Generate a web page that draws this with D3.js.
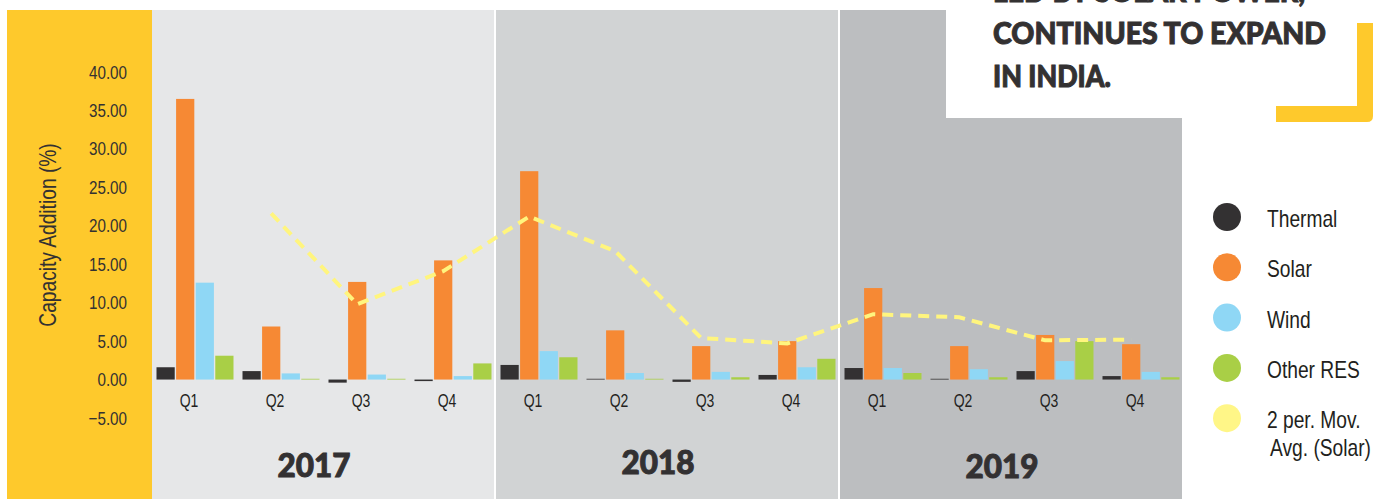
<!DOCTYPE html>
<html>
<head>
<meta charset="utf-8">
<script src="https://cdn.jsdelivr.net/npm/d3@7"></script>
<style>
  html, body { margin: 0; padding: 0; background: #ffffff; }
  svg { display: block; }
</style>
</head>
<body>
<svg id="chart" width="1380" height="499"></svg>
<script>
// ---------------- data ----------------
const years = ["2017", "2018", "2019"];
const quarters = ["Q1", "Q2", "Q3", "Q4"];
const seriesNames = ["Thermal", "Solar", "Wind", "Other RES"];
const thermal = [1.6, 1.1, -0.4, -0.2, 1.9, 0.1, -0.3, 0.6, 1.5, 0.1, 1.1, 0.45];
const solar   = [36.5, 6.9, 12.7, 15.5, 27.1, 6.4, 4.35, 5.0, 11.9, 4.35, 5.8, 4.6];
const wind    = [12.6, 0.8, 0.65, 0.45, 3.7, 0.85, 1.0, 1.6, 1.5, 1.35, 2.4, 1.0];
const otherRes = [3.1, 0.1, 0.1, 2.1, 2.9, 0.1, 0.3, 2.7, 0.85, 0.3, 5.0, 0.3];
// 2-period moving average of Solar, starting at 2017 Q2
const movAvgSolar = [21.6, 9.8, 14.1, 21.2, 16.7, 5.4, 4.7, 8.5, 8.1, 5.1, 5.2];
const yTicks = [-5, 0, 5, 10, 15, 20, 25, 30, 35, 40];
const legendLabels = ["Thermal", "Solar", "Wind", "Other RES", "2 per. Mov.|Avg. (Solar)"];
const titleLines = ["LED BY SOLAR POWER,", "CONTINUES TO EXPAND", "IN INDIA."];
const yAxisTitle = "Capacity Addition (%)";

// ---------------- styles ----------------
const colors = {
  "Thermal": "#333132",
  "Solar": "#f68934",
  "Wind": "#8fd7f5",
  "Other RES": "#a9cf46",
  "movavg": "#fff57e"
};
const legendColors = ["#333132", "#f68934", "#8fd7f5", "#a9cf46", "#fff687"];
const panelFills = ["#e6e7e8", "#d1d3d4", "#bcbec0"];
const textDark = "#333132";
const narrowFont = "'Liberation Sans', Arial, sans-serif";
const narrowScale = 0.8;

// ---------------- build ----------------
const svg = d3.select("#chart");
const W = 1380, H = 499;
svg.append("rect").attr("width", W).attr("height", H).attr("fill", "#ffffff");

function narrowText(parent, tx, ty, size, anchor, txt, fill, rot) {
  return parent.append("text")
    .attr("transform", `translate(${tx},${ty})` + (rot ? ` rotate(${rot})` : "") + ` scale(${narrowScale},1)`)
    .attr("text-anchor", anchor)
    .attr("font-family", narrowFont)
    .attr("font-size", size)
    .attr("fill", fill || textDark)
    .text(txt);
}

const periods = [];
years.forEach(yy => quarters.forEach(q => periods.push(yy + "-" + q)));
const seriesValues = [thermal, solar, wind, otherRes];

const x = d3.scaleBand().domain(periods).range([152, 1184]).padding(0);
const xi = d3.scaleBand().domain(seriesNames).range([4.5, x.bandwidth() - 4.5]).paddingInner(0.07).paddingOuter(0);
const y = d3.scaleLinear().domain([-5, 40]).range([418, 72]);

const panelTop = 10;

// yellow axis panel
svg.append("rect").attr("x", 7).attr("y", panelTop).attr("width", 145).attr("height", H - panelTop).attr("fill", "#fec92c");

// year panels
years.forEach((yr, i) => {
  const x0 = x(yr + "-Q1");
  const x1 = x(yr + "-Q4") + x.bandwidth();
  svg.append("rect")
    .attr("x", x0).attr("y", panelTop)
    .attr("width", x1 - x0 - 2).attr("height", H - panelTop)
    .attr("fill", panelFills[i]);
});

// y axis tick labels
const yAxisG = svg.append("g");
yTicks.forEach(t => {
  narrowText(yAxisG, 127, y(t) + 6.5, 19, "end", d3.format(".2f")(t));
});

// y axis title
narrowText(svg, 56, 235, 24, "middle", yAxisTitle, textDark, -90);

// bars
const barsG = svg.append("g");
periods.forEach((p, pi) => {
  seriesNames.forEach((s, si) => {
    const v = seriesValues[si][pi];
    barsG.append("rect")
      .attr("x", x(p) + xi(s))
      .attr("width", xi.bandwidth())
      .attr("y", y(Math.max(0, v)))
      .attr("height", Math.abs(y(v) - y(0)))
      .attr("fill", colors[s]);
  });
});

// quarter labels
const qG = svg.append("g");
periods.forEach(p => {
  narrowText(qG, x(p) + x.bandwidth() / 2 - 6, 407, 17.5, "middle", p.split("-")[1], "#231f20");
});

// moving average line
const lineData = movAvgSolar.map((v, i) => ({ p: periods[i + 1], v }));
const line = d3.line()
  .x(d => x(d.p) + xi("Solar") + xi.bandwidth() / 2)
  .y(d => y(d.v));
svg.append("path")
  .datum(lineData)
  .attr("d", line)
  .attr("fill", "none")
  .attr("stroke", colors.movavg)
  .attr("stroke-width", 4)
  .attr("stroke-dasharray", "11 7");

// year labels
const yearY = [477, 474, 478];
years.forEach((yr, i) => {
  const x0 = x(yr + "-Q1");
  const x1 = x(yr + "-Q4") + x.bandwidth();
  svg.append("text")
    .attr("x", (x0 + x1) / 2 - 10)
    .attr("y", yearY[i])
    .attr("text-anchor", "middle")
    .attr("font-family", "Lato, 'DejaVu Sans', sans-serif")
    .attr("font-weight", 900)
    .attr("font-size", 33)
    .attr("fill", textDark)
    .attr("stroke", textDark)
    .attr("stroke-width", 1)
    .attr("textLength", 73)
    .attr("lengthAdjust", "spacingAndGlyphs")
    .text(yr);
});

// title box
svg.append("rect").attr("x", 946).attr("y", 0).attr("width", W - 946).attr("height", 118).attr("fill", "#ffffff");
svg.append("path")
  .attr("d", "M1276,106 H1357 V23 H1373 V116 Q1373,122 1367,122 H1276 Z")
  .attr("fill", "#fec92c");
const titleBase = [2, 44, 87];
const titleLen = [312, 333, 118];
titleLines.forEach((t, i) => {
  svg.append("text")
    .attr("x", 993)
    .attr("y", titleBase[i])
    .attr("font-family", "Lato, 'DejaVu Sans', sans-serif")
    .attr("font-weight", 900)
    .attr("font-size", 30)
    .attr("fill", textDark)
    .attr("stroke", textDark)
    .attr("stroke-width", 1)
    .attr("textLength", titleLen[i])
    .attr("lengthAdjust", "spacingAndGlyphs")
    .text(t);
});

// legend
const legend = svg.append("g");
legendLabels.forEach((lab, i) => {
  const cy = 217 + i * 50.3;
  legend.append("circle").attr("cx", 1227).attr("cy", cy).attr("r", 14).attr("fill", legendColors[i]);
  const parts = lab.split("|");
  parts.forEach((pt, j) => {
    narrowText(legend, j === 0 ? 1267 : 1270, cy + 10 + j * 28, 24, "start", pt, "#231f20");
  });
});
</script>
</body>
</html>
